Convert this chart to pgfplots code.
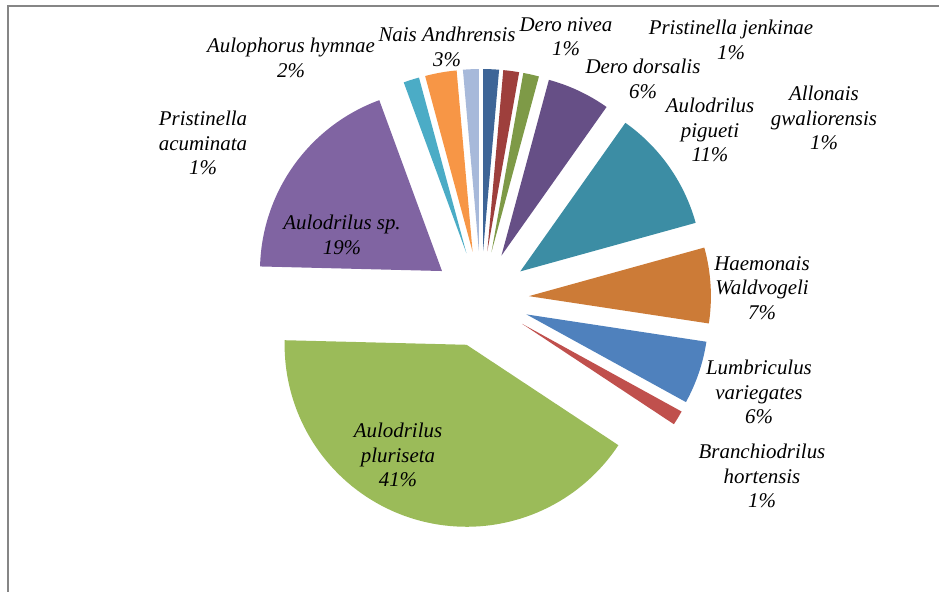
\documentclass[border=0pt]{standalone}
\usepackage{pgfplots}
\usepackage{pgfplotstable}
\pgfplotsset{compat=1.18}
\usepackage{fontspec}
\setmainfont{Liberation Serif}
\definecolor{cDB}{HTML}{3E6597}
\definecolor{cDR}{HTML}{9E3F3C}
\definecolor{cDG}{HTML}{7E9A47}
\definecolor{cDP}{HTML}{664F86}
\definecolor{cDA}{HTML}{3C8DA4}
\definecolor{cDO}{HTML}{CC7B37}
\definecolor{cB}{HTML}{4F81BD}
\definecolor{cR}{HTML}{C0504D}
\definecolor{cG}{HTML}{9BBB59}
\definecolor{cP}{HTML}{8064A2}
\definecolor{cA}{HTML}{4BACC6}
\definecolor{cO}{HTML}{F79646}
\definecolor{cLB}{HTML}{A7B9DA}
\definecolor{frame}{HTML}{868686}
\tikzset{lab/.style={font=\fontsize{21}{24.5}\selectfont\itshape, align=center, text=black, inner sep=0pt}}
% share of each slice (%), clockwise from 12 o'clock
\pgfplotstableread{
name val col
DeroNivea 1.4 cDB
PristinellaJenkinae 1.4 cDR
AllonaisGwaliorensis 1.4 cDG
DeroDorsalis 5.6 cDP
AulodrilusPigueti 10.9 cDA
HaemonaisWaldvogeli 6.7 cDO
LumbriculusVariegates 5.6 cB
BranchiodrilusHortensis 1.3 cR
AulodrilusPluriseta 41.1 cG
AulodrilusSp 19.0 cP
PristinellaAcuminata 1.4 cA
AulophorusHymnae 2.8 cO
NaisAndhrensis 1.4 cLB
}\pietable
\begin{document}
\begin{tikzpicture}
\begin{axis}[
  at={(0,0)}, anchor=south west,
  x=1bp, y=1bp,
  xmin=0, xmax=939, ymin=0, ymax=592,
  enlargelimits=false,
  hide axis, clip=false,
]
\xdef\cum{0}
\pgfplotsinvokeforeach{0,...,12}{
  \pgfplotstablegetelem{#1}{val}\of\pietable \let\v\pgfplotsretval
  \pgfplotstablegetelem{#1}{col}\of\pietable \let\c\pgfplotsretval
  \pgfmathsetmacro\a{90-3.6*\cum}
  \pgfmathsetmacro\b{90-3.6*(\cum+\v)}
  \pgfmathsetmacro\m{(\a+\b)/2}
  \pgfmathsetmacro\px{481+48*cos(\m)}
  \pgfmathsetmacro\py{293+48*sin(\m)}
  \edef\temp{\noexpand\addplot[fill=\c, draw=none, domain=\b:\a, samples=80]
    ({\px+182*cos(x)},{\py+182*sin(x)}) -- (axis cs:\px,\py) -- cycle;}
  \temp
  \pgfmathsetmacro\newcum{\cum+\v}
  \xdef\cum{\newcum}
}
\draw[frame, line width=1.6bp] (axis cs:8,0) -- (axis cs:8,586) -- (axis cs:939,586);
\node[lab] at (axis cs:291,534) {Aulophorus hymnae\\2\%};
\node[lab] at (axis cs:447,545) {Nais Andhrensis\\3\%};
\node[lab] at (axis cs:566,555) {Dero nivea\\1\%};
\node[lab] at (axis cs:731,552) {Pristinella jenkinae\\1\%};
\node[lab] at (axis cs:643,513) {Dero dorsalis\\6\%};
\node[lab] at (axis cs:710,462) {Aulodrilus\\pigueti\\11\%};
\node[lab] at (axis cs:824,474) {Allonais\\gwaliorensis\\1\%};
\node[lab] at (axis cs:762,304) {Haemonais\\Waldvogeli\\7\%};
\node[lab] at (axis cs:759,200) {Lumbriculus\\variegates\\6\%};
\node[lab] at (axis cs:762,116) {Branchiodrilus\\hortensis\\1\%};
\node[lab] at (axis cs:398,137) {Aulodrilus\\pluriseta\\41\%};
\node[lab] at (axis cs:342,357) {Aulodrilus sp.\\19\%};
\node[lab] at (axis cs:203,449) {Pristinella\\acuminata\\1\%};
\end{axis}
\pgfresetboundingbox
\useasboundingbox (0,0) rectangle (939bp,592bp);
\end{tikzpicture}
\end{document}
